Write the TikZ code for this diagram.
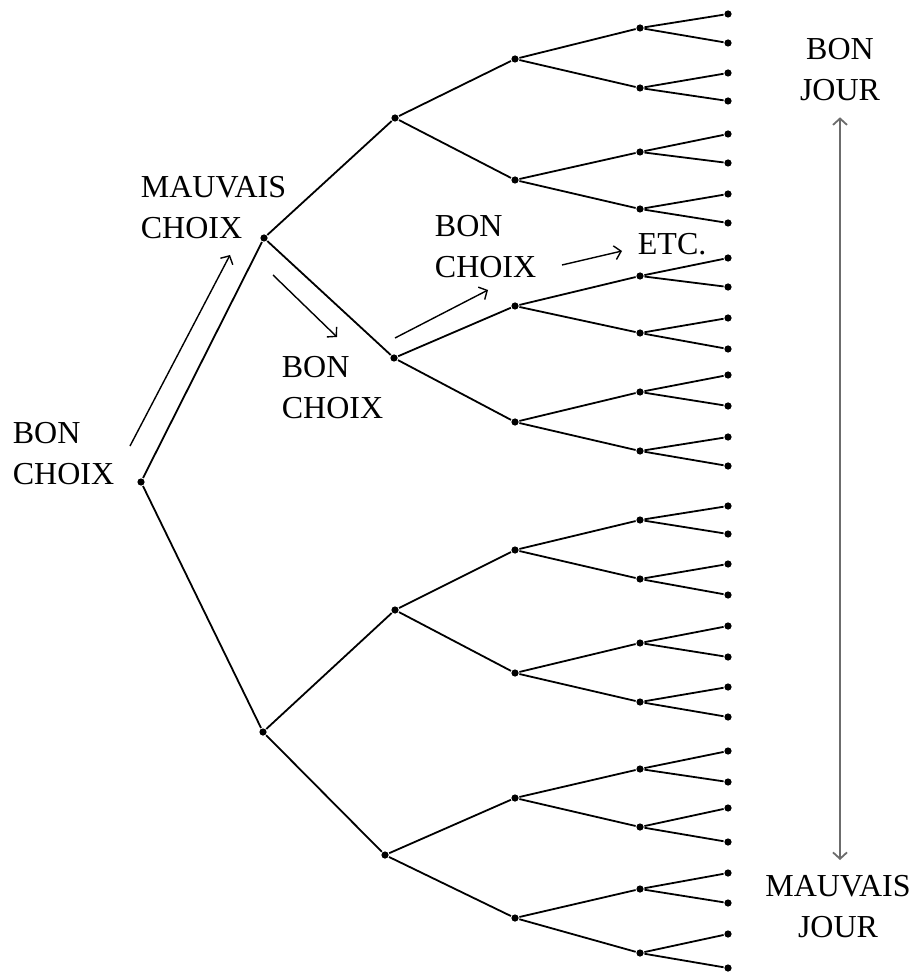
\documentclass[tikz,border=0pt]{standalone}
\usepackage{fontspec}
\setmainfont{Liberation Serif}
\usetikzlibrary{arrows.meta,calc}

\tikzset{
  dot/.style={circle,fill,inner sep=0pt,minimum size=3.6pt},
  lbl/.style={inner sep=0pt,align=left,anchor=north west,font=\fontsize{16}{20.5}\selectfont},
  clbl/.style={inner sep=0pt,align=center,anchor=north,font=\fontsize{16}{20.5}\selectfont},
  hint/.style={line width=0.7pt,-{Straight Barb[length=3.2pt,width=7pt]}},
}

\begin{document}
\begin{tikzpicture}[x=0.5pt,y=-0.5pt,line width=0.9pt]
			\useasboundingbox (0,0) rectangle (915,972);

			% root and first two levels
			\node[dot] (n) at (141,482) {};
			\node[dot] (n1) at (264,238) {};
			\node[dot] (n2) at (263,732) {};
			\node[dot] (n11) at (395,118) {};
			\node[dot] (n12) at (394,358) {};
			\node[dot] (n21) at (395,610) {};
			\node[dot] (n22) at (385,855) {};

			% third level
			\node[dot] (n111) at (515,59) {};
			\node[dot] (n112) at (515,180) {};
			\node[dot] (n121) at (515,306) {};
			\node[dot] (n122) at (515,422) {};
			\node[dot] (n211) at (515,550) {};
			\node[dot] (n212) at (515,673) {};
			\node[dot] (n221) at (515,798) {};
			\node[dot] (n222) at (515,918) {};

			% fourth level
			\node[dot] (n1111) at (640,28) {};
			\node[dot] (n1112) at (640,88) {};
			\node[dot] (n1121) at (640,152) {};
			\node[dot] (n1122) at (640,209) {};
			\node[dot] (n1211) at (640,276) {};
			\node[dot] (n1212) at (640,333) {};
			\node[dot] (n1221) at (640,392) {};
			\node[dot] (n1222) at (640,451) {};
			\node[dot] (n2111) at (640,520) {};
			\node[dot] (n2112) at (640,579) {};
			\node[dot] (n2121) at (640,643) {};
			\node[dot] (n2122) at (640,702) {};
			\node[dot] (n2211) at (640,769) {};
			\node[dot] (n2212) at (640,827) {};
			\node[dot] (n2221) at (640,889) {};
			\node[dot] (n2222) at (640,953) {};

			% leaves
			\node[dot] (n11111) at (728,14) {};
			\node[dot] (n11112) at (728,43) {};
			\node[dot] (n11121) at (728,73) {};
			\node[dot] (n11122) at (728,101) {};
			\node[dot] (n11211) at (728,134) {};
			\node[dot] (n11212) at (728,163) {};
			\node[dot] (n11221) at (728,194) {};
			\node[dot] (n11222) at (728,223) {};
			\node[dot] (n12111) at (728,258) {};
			\node[dot] (n12112) at (728,287) {};
			\node[dot] (n12121) at (728,318) {};
			\node[dot] (n12122) at (728,349) {};
			\node[dot] (n12211) at (728,375) {};
			\node[dot] (n12212) at (728,406) {};
			\node[dot] (n12221) at (728,437) {};
			\node[dot] (n12222) at (728,466) {};
			\node[dot] (n21111) at (728,506) {};
			\node[dot] (n21112) at (728,534) {};
			\node[dot] (n21121) at (728,564) {};
			\node[dot] (n21122) at (728,595) {};
			\node[dot] (n21211) at (728,626) {};
			\node[dot] (n21212) at (728,657) {};
			\node[dot] (n21221) at (728,687) {};
			\node[dot] (n21222) at (728,717) {};
			\node[dot] (n22111) at (728,751) {};
			\node[dot] (n22112) at (728,782) {};
			\node[dot] (n22121) at (728,808) {};
			\node[dot] (n22122) at (728,842) {};
			\node[dot] (n22211) at (728,873) {};
			\node[dot] (n22212) at (728,903) {};
			\node[dot] (n22221) at (728,934) {};
			\node[dot] (n22222) at (728,968) {};

			% branches
			\path[draw] (n) edge (n1) edge (n2);
			\path[draw] (n1) edge (n11) edge (n12);
			\path[draw] (n2) edge (n21) edge (n22);
			\path[draw] (n11) edge (n111) edge (n112);
			\path[draw] (n12) edge (n121) edge (n122);
			\path[draw] (n21) edge (n211) edge (n212);
			\path[draw] (n22) edge (n221) edge (n222);
			\path[draw] (n111) edge (n1111) edge (n1112);
			\path[draw] (n112) edge (n1121) edge (n1122);
			\path[draw] (n121) edge (n1211) edge (n1212);
			\path[draw] (n122) edge (n1221) edge (n1222);
			\path[draw] (n211) edge (n2111) edge (n2112);
			\path[draw] (n212) edge (n2121) edge (n2122);
			\path[draw] (n221) edge (n2211) edge (n2212);
			\path[draw] (n222) edge (n2221) edge (n2222);
			\path[draw] (n1111) edge (n11111) edge (n11112);
			\path[draw] (n1112) edge (n11121) edge (n11122);
			\path[draw] (n1121) edge (n11211) edge (n11212);
			\path[draw] (n1122) edge (n11221) edge (n11222);
			\path[draw] (n1211) edge (n12111) edge (n12112);
			\path[draw] (n1212) edge (n12121) edge (n12122);
			\path[draw] (n1221) edge (n12211) edge (n12212);
			\path[draw] (n1222) edge (n12221) edge (n12222);
			\path[draw] (n2111) edge (n21111) edge (n21112);
			\path[draw] (n2112) edge (n21121) edge (n21122);
			\path[draw] (n2121) edge (n21211) edge (n21212);
			\path[draw] (n2122) edge (n21221) edge (n21222);
			\path[draw] (n2211) edge (n22111) edge (n22112);
			\path[draw] (n2212) edge (n22121) edge (n22122);
			\path[draw] (n2221) edge (n22211) edge (n22212);
			\path[draw] (n2222) edge (n22221) edge (n22222);

			% labels
			\node[lbl] (bc0) at (12,421) {BON\\CHOIX};
			\node[lbl] (mc) at (140,175) {MAUVAIS\\CHOIX};
			\node[lbl] (bc1) at (281,355) {BON\\CHOIX};
			\node[lbl] (bc2) at (434,214) {BON\\CHOIX};
			\node[lbl] (etc) at (637,232) {ETC.};
			\node[clbl] (bj) at (840,37) {BON\\JOUR};
			\node[clbl] (mj) at (838,874) {MAUVAIS\\JOUR};

			% choice arrows
			\coordinate (a0) at (130,446);
			\coordinate (a1) at (230,255);
			\coordinate (b0) at (273,275);
			\coordinate (b1) at (337,337);
			\coordinate (c0) at (395,338);
			\coordinate (c1) at (488,290);
			\coordinate (d0) at (562,265);
			\coordinate (d1) at (622,251);
			\draw[hint] (a0) -- (a1);
			\draw[hint] (b0) -- (b1);
			\draw[hint] (c0) -- (c1);
			\draw[hint] (d0) -- (d1);

			% day scale
			\draw[gray!85!black,line width=0.9pt,{Straight Barb[length=3.2pt,width=7pt]}-{Straight Barb[length=3.2pt,width=7pt]}]
				($(bj.south)+(0,16)$) -- ($(mj.north)+(2,-14)$);
		\end{tikzpicture}
\end{document}
